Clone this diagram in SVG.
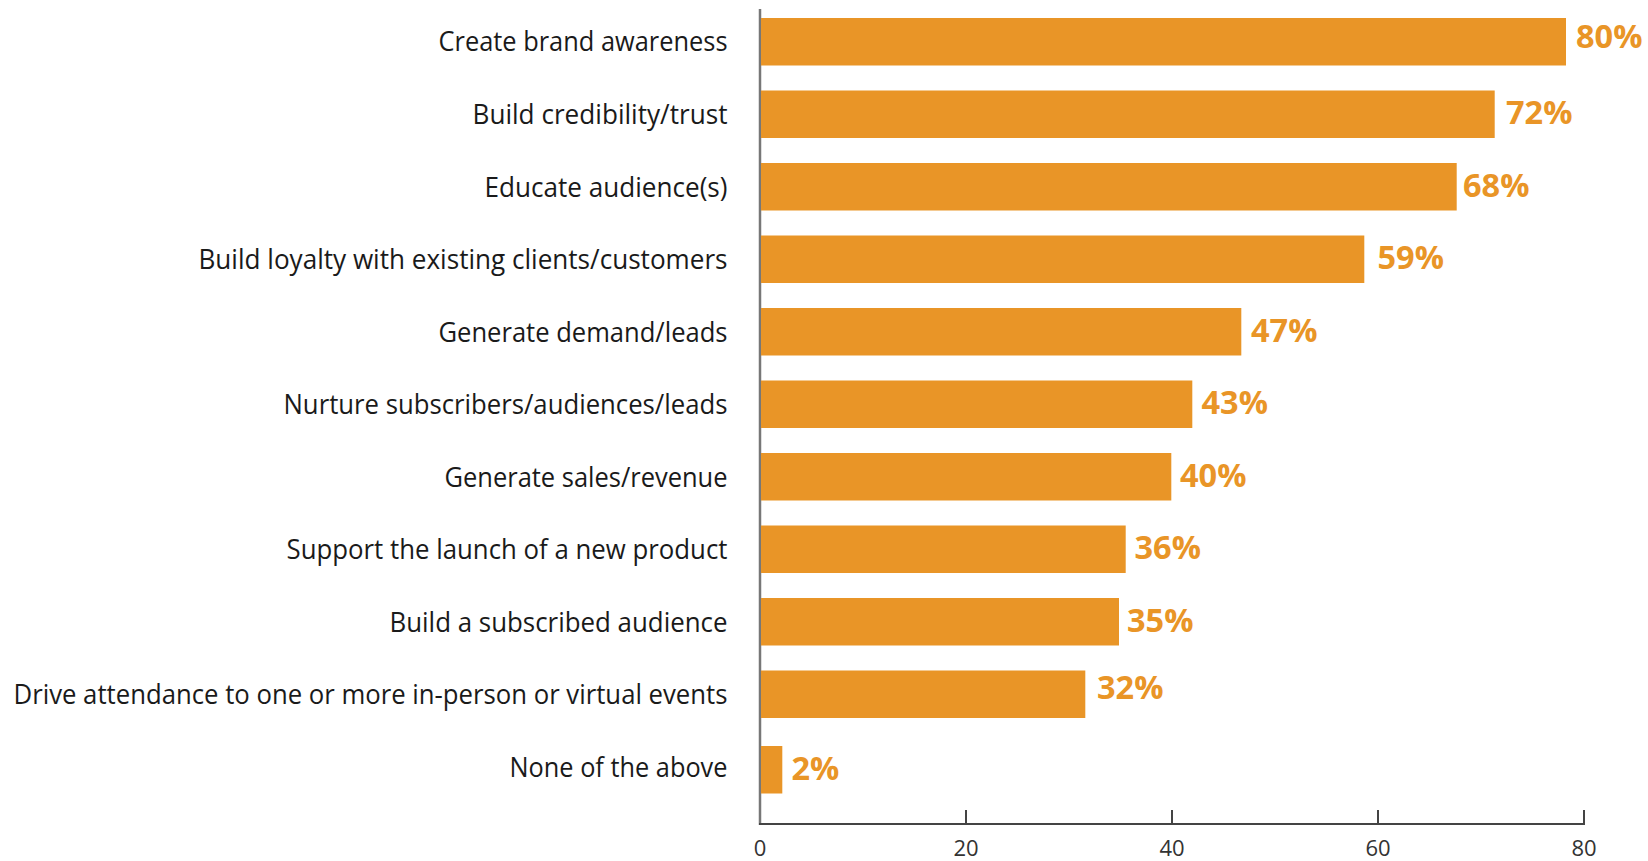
<svg xmlns="http://www.w3.org/2000/svg" width="1648" height="861" viewBox="0 0 1648 861">
<style>
.bar{fill:#E99527}
.cat{font-family:"Open Sans","Noto Sans",sans-serif;font-size:27px;fill:#1a1a1a;text-anchor:end}
.val{font-family:"Open Sans","Noto Sans",sans-serif;font-size:32.5px;font-weight:bold;fill:#E99527}
.tick{font-family:"Open Sans","Noto Sans",sans-serif;font-size:22px;fill:#333;text-anchor:middle}
.ax{stroke:#444;stroke-width:2;fill:none}
.vax{stroke:#777;stroke-width:2.5;fill:none}
</style>
<rect width="1648" height="861" fill="#fff"/>
<g id="axes">
<line class="vax" x1="760" y1="9" x2="760" y2="825"/>
<line class="ax" x1="759" y1="824" x2="1585" y2="824"/>
<line class="ax" x1="966" y1="810" x2="966" y2="824" stroke="#666"/>
<line class="ax" x1="1172" y1="810" x2="1172" y2="824" stroke="#666"/>
<line class="ax" x1="1378" y1="810" x2="1378" y2="824" stroke="#666"/>
<line class="ax" x1="1584" y1="810" x2="1584" y2="825"/>
<text class="tick" x="760" y="856">0</text>
<text class="tick" x="966" y="856">20</text>
<text class="tick" x="1172" y="856">40</text>
<text class="tick" x="1378" y="856">60</text>
<text class="tick" x="1584" y="856">80</text>
</g>
<g id="row1"><rect class="bar" x="761" y="18" width="805" height="47.5"/><text class="cat" x="727.5" y="51" textLength="289" lengthAdjust="spacingAndGlyphs">Create brand awareness</text><text class="val" x="1576" y="48">80%</text></g>
<g id="row2"><rect class="bar" x="761" y="90.5" width="733.7" height="47.5"/><text class="cat" x="727.5" y="124" textLength="255" lengthAdjust="spacingAndGlyphs">Build credibility/trust</text><text class="val" x="1506" y="124">72%</text></g>
<g id="row3"><rect class="bar" x="761" y="163" width="695.7" height="47.5"/><text class="cat" x="727.5" y="196.5" textLength="243" lengthAdjust="spacingAndGlyphs">Educate audience(s)</text><text class="val" x="1463" y="196.5">68%</text></g>
<g id="row4"><rect class="bar" x="761" y="235.5" width="603.3" height="47.5"/><text class="cat" x="727.5" y="269" textLength="529" lengthAdjust="spacingAndGlyphs">Build loyalty with existing clients/customers</text><text class="val" x="1377.5" y="269">59%</text></g>
<g id="row5"><rect class="bar" x="761" y="308" width="480.3" height="47.5"/><text class="cat" x="727.5" y="341.5" textLength="289" lengthAdjust="spacingAndGlyphs">Generate demand/leads</text><text class="val" x="1251" y="341.5">47%</text></g>
<g id="row6"><rect class="bar" x="761" y="380.5" width="431.3" height="47.5"/><text class="cat" x="727.5" y="414" textLength="444" lengthAdjust="spacingAndGlyphs">Nurture subscribers/audiences/leads</text><text class="val" x="1201.5" y="414">43%</text></g>
<g id="row7"><rect class="bar" x="761" y="453" width="410.3" height="47.5"/><text class="cat" x="727.5" y="486.5" textLength="283" lengthAdjust="spacingAndGlyphs">Generate sales/revenue</text><text class="val" x="1180" y="486.5">40%</text></g>
<g id="row8"><rect class="bar" x="761" y="525.5" width="364.7" height="47.5"/><text class="cat" x="727.5" y="559" textLength="441" lengthAdjust="spacingAndGlyphs">Support the launch of a new product</text><text class="val" x="1134.5" y="559">36%</text></g>
<g id="row9"><rect class="bar" x="761" y="598" width="358" height="47.5"/><text class="cat" x="727.5" y="631.5" textLength="338" lengthAdjust="spacingAndGlyphs">Build a subscribed audience</text><text class="val" x="1127" y="631.5">35%</text></g>
<g id="row10"><rect class="bar" x="761" y="670.5" width="324.3" height="47.5"/><text class="cat" x="727.5" y="704" textLength="714" lengthAdjust="spacingAndGlyphs">Drive attendance to one or more in-person or virtual events</text><text class="val" x="1097" y="699">32%</text></g>
<g id="row11"><rect class="bar" x="761" y="746" width="21.3" height="47.5"/><text class="cat" x="727.5" y="776.5" textLength="218" lengthAdjust="spacingAndGlyphs">None of the above</text><text class="val" x="791.5" y="780">2%</text></g>
</svg>
